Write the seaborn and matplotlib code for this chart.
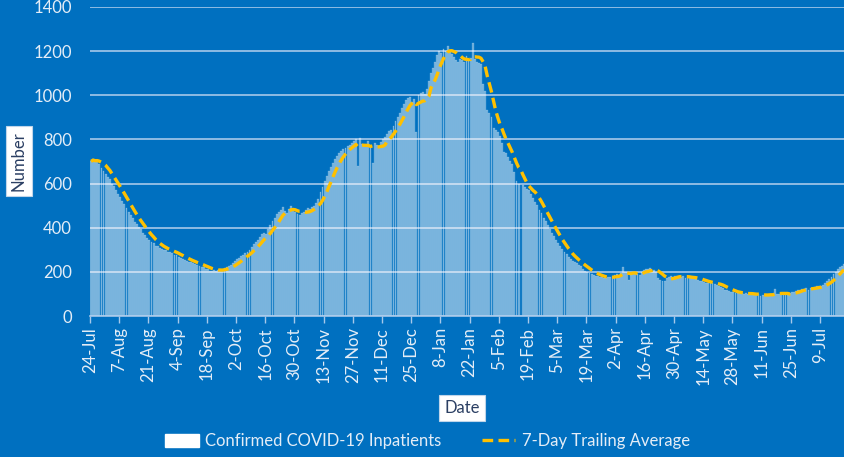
import numpy as np
import pandas as pd
import matplotlib
matplotlib.use("Agg")
import matplotlib.pyplot as plt
from matplotlib.patches import Patch
from matplotlib.lines import Line2D
import seaborn as sns

# daily inpatient counts, 24-Jul-2020 .. 20-Jul-2021
jul_2020 = [700, 712, 698, 705, 690, 672, 655, 645]
aug_2020 = [630, 622, 600, 588, 572, 552, 540, 522, 508, 488, 472, 458, 442, 428, 418, 402,
            396, 378, 368, 352, 346, 336, 330, 318, 316, 306, 305, 298, 300, 292, 290]
sep_2020 = [286, 278, 276, 268, 262, 260, 252, 250, 246, 244, 238, 236, 230, 228, 224, 220,
            214, 212, 206, 204, 210, 204, 208, 214, 210, 216, 222, 228, 232, 240]
oct_2020 = [248, 256, 262, 270, 278, 286, 292, 300, 312, 326, 336, 344, 356, 372, 376, 370,
            392, 412, 430, 446, 460, 470, 482, 492, 474, 468, 486, 496, 480, 470, 462]
nov_2020 = [456, 466, 470, 482, 490, 484, 492, 496, 512, 532, 560, 586, 610, 632, 656, 676,
            692, 712, 726, 736, 748, 756, 762, 770, 776, 782, 792, 800, 680, 806]
dec_2020 = [780, 772, 776, 792, 770, 695, 782, 776, 770, 790, 802, 810, 822, 836, 842, 862,
            882, 902, 920, 942, 960, 976, 986, 992, 970, 982, 835, 1002, 1012, 1016, 1006]
jan_2021 = [1030, 1062, 1102, 1122, 1152, 1182, 1200, 1192, 1210, 1202, 1225, 1196, 1186, 1172,
            1160, 1152, 1166, 1160, 1150, 1176, 1162, 1170, 1235, 1166, 1150, 1146, 1140, 1050,
            1020, 932, 920]
feb_2021 = [900, 852, 842, 832, 816, 782, 742, 736, 720, 702, 690, 652, 612, 600, np.nan, 592,
            582, 576, 570, 552, 536, 516, 502, 482, 466, 446, 432, 412]
mar_2021 = [392, 376, 362, 346, 332, 316, 302, 292, 282, 268, 260, 250, 246, 238, 232, 226,
            212, 206, 200, 196, 190, 186, 182, 180, 178, 176, 172, 170, 175, 178, 180]
apr_2021 = [185, 190, 180, 195, 222, 200, 198, 165, 186, 200, 196, 190, 186, 200, 210, 215,
            212, 216, 205, 208, 200, 172, 165, 160, 158, 170, 175, 180, 178, 182]
may_2021 = [182, 178, 176, 180, 172, 178, 176, 170, 172, 168, 165, 160, 158, 152, 150, 148,
            152, 150, 146, 140, 136, 132, 126, 120, 116, 112, 108, 110, 104, 102, 104]
jun_2021 = [102, 100, 104, 98, 102, 100, 96, 94, 98, 92, 96, 94, 96, 98, 100, 96, 122, 98,
            100, 102, 98, 100, 96, 104, 108, 110, 114, 118, 120, 122]
jul_2021 = [124, 126, 120, 128, 126, 130, 134, 136, 138, 142, 150, 160, 168, 178, 190, 200,
            212, 222, 228, 236]

start_date = "2020-07-24"
tick_every = 14

inpatients = (jul_2020 + aug_2020 + sep_2020 + oct_2020 + nov_2020 + dec_2020 + jan_2021
              + feb_2021 + mar_2021 + apr_2021 + may_2021 + jun_2021 + jul_2021)
dates = pd.date_range(start_date, periods=len(inpatients), freq="D")

df = pd.DataFrame({"day": np.arange(len(inpatients)), "date": dates, "inpatients": inpatients})
df["avg7"] = df["inpatients"].rolling(7, min_periods=1).mean()

bg = "#0070C0"
light = "#E4EDF7"
grid_col = "#A6C8EA"
yellow = "#FFC000"

sns.set_theme(style="white")
plt.rcParams["font.family"] = ["Lato", "DejaVu Sans"]

fig = plt.figure(figsize=(8.45, 4.57), dpi=100, facecolor=bg)
ax = fig.add_axes([0.1065, 0.3085, 0.8935, 0.6765])
ax.set_facecolor(bg)

sns.barplot(data=df.dropna(), x="day", y="inpatients", native_scale=True, color="white",
            alpha=0.4, width=0.9, errorbar=None, edgecolor="white", linewidth=0.25, ax=ax)
sns.lineplot(data=df, x="day", y="avg7", color=yellow, linewidth=2.4, ax=ax)
ax.lines[-1].set_dashes([3.2, 1.6])
ax.lines[-1].set_dash_capstyle("butt")

ax.set_ylim(0, 1400)
ax.set_yticks(range(0, 1401, 200))
ax.set_xlim(-0.5, len(df) - 0.5)
tick_days = list(range(0, len(df), tick_every))
ax.set_xticks([d - 0.5 for d in tick_days])
ax.set_xticklabels([f"{dates[d].day}-{dates[d].strftime('%b')}" for d in tick_days],
                   rotation=90)

ax.grid(axis="y", color=grid_col, linewidth=1.2)
ax.set_axisbelow(True)
for s in ["left", "right", "top"]:
    ax.spines[s].set_visible(False)
ax.spines["bottom"].set_color(grid_col)
ax.spines["bottom"].set_linewidth(1.2)
ax.tick_params(axis="x", colors=light, labelsize=12, length=5, width=1, direction="out",
               bottom=True, color=grid_col, pad=3)
ax.tick_params(axis="y", colors=light, labelsize=12, length=0, pad=13)
ax.set_xlabel("")
ax.set_ylabel("")

box = dict(boxstyle="square,pad=0.3", facecolor="white", edgecolor="#BFD5EA", linewidth=0.8)
fig.text(19 / 845, 1 - 161 / 457, "Number", rotation=90, ha="center", va="center",
         fontsize=12, color="#2B3F63", bbox=box)
fig.text(462 / 845, 1 - 408 / 457, "Date", ha="center", va="center",
         fontsize=12, color="#2B3F63", bbox=box)

handles = [Patch(facecolor="white", edgecolor="white"),
           Line2D([0], [0], color=yellow, linewidth=2.4, dashes=[3.2, 1.6])]
fig.legend(handles, ["Confirmed COVID-19 Inpatients", "7-Day Trailing Average"],
           loc="center", bbox_to_anchor=(0.506, 1 - 441 / 457), ncol=2, frameon=False,
           fontsize=12, labelcolor=light, handlelength=2.0, handleheight=0.8,
           columnspacing=2.4, handletextpad=0.4)

fig.savefig("out.png", dpi=100, facecolor=bg)
